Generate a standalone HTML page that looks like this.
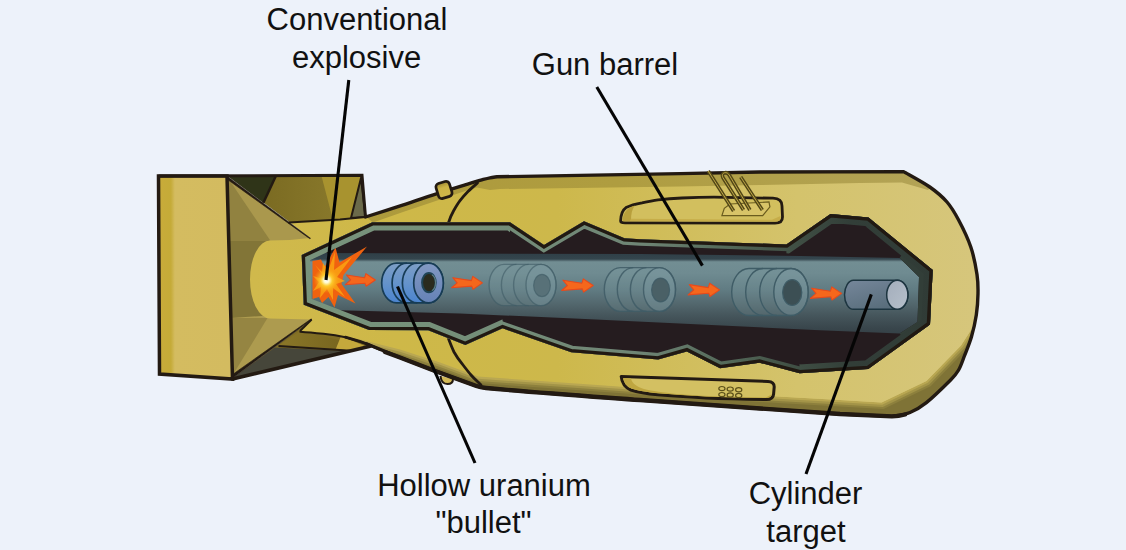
<!DOCTYPE html>
<html><head><meta charset="utf-8"><title>Gun-type fission weapon</title>
<style>
html,body{margin:0;padding:0;background:#edf2fa;}
body{width:1126px;height:550px;overflow:hidden;}
svg{display:block}
text{font-family:"Liberation Sans",sans-serif;font-size:31px;fill:#111;text-anchor:middle}
</style></head><body>
<svg width="1126" height="550" viewBox="0 0 1126 550">
<defs>
<linearGradient id="gBarrel" x1="0" y1="0" x2="0" y2="1">
<stop offset="0" stop-color="#2f3f47"/><stop offset="0.075" stop-color="#34454d"/><stop offset="0.11" stop-color="#728e93"/><stop offset="0.25" stop-color="#6f8b91"/><stop offset="0.45" stop-color="#617c83"/><stop offset="0.64" stop-color="#52666c"/><stop offset="0.78" stop-color="#45555b"/><stop offset="0.93" stop-color="#39464c"/><stop offset="1" stop-color="#354147"/>
</linearGradient>
<linearGradient id="gBand" x1="300" y1="0" x2="940" y2="0" gradientUnits="userSpaceOnUse">
<stop offset="0" stop-color="#78937c"/><stop offset="0.19" stop-color="#76917a"/><stop offset="0.53" stop-color="#6f8575"/><stop offset="0.66" stop-color="#556b5b"/><stop offset="0.75" stop-color="#445448"/><stop offset="0.86" stop-color="#323e38"/><stop offset="1" stop-color="#303b36"/>
</linearGradient>
<linearGradient id="gBox" x1="157" y1="0" x2="230" y2="0" gradientUnits="userSpaceOnUse">
<stop offset="0" stop-color="#c9ab3a"/><stop offset="0.19" stop-color="#c5ab38"/><stop offset="0.245" stop-color="#d4bc60"/><stop offset="1" stop-color="#d3bb60"/>
</linearGradient>
<linearGradient id="gBody" x1="250" y1="0" x2="980" y2="0" gradientUnits="userSpaceOnUse">
<stop offset="0" stop-color="#d0b94c"/><stop offset="0.2" stop-color="#ceb848"/><stop offset="0.42" stop-color="#cdb84b"/><stop offset="0.75" stop-color="#d4c36c"/><stop offset="1" stop-color="#d6c67c"/>
</linearGradient>
<linearGradient id="gBrown" x1="230" y1="0" x2="330" y2="0" gradientUnits="userSpaceOnUse"><stop offset="0" stop-color="#75651e"/><stop offset="1" stop-color="#87772a"/></linearGradient>
<linearGradient id="gLug" x1="0" y1="0" x2="0" y2="1"><stop offset="0" stop-color="#a08a34"/><stop offset="0.35" stop-color="#cdb446"/><stop offset="1" stop-color="#cfb74a"/></linearGradient>
<linearGradient id="gStrip" x1="280" y1="0" x2="340" y2="0" gradientUnits="userSpaceOnUse"><stop offset="0" stop-color="#8a7628"/><stop offset="1" stop-color="#78661f"/></linearGradient>
<linearGradient id="gTopBand" x1="360" y1="0" x2="930" y2="0" gradientUnits="userSpaceOnUse">
<stop offset="0" stop-color="#ad9a3c"/><stop offset="0.45" stop-color="#af9d40"/><stop offset="1" stop-color="#b3a356"/>
</linearGradient>
<linearGradient id="gRing" x1="0" y1="0" x2="0" y2="1">
<stop offset="0" stop-color="#8299c3"/><stop offset="1" stop-color="#6582b6"/>
</linearGradient>
<radialGradient id="gExp" cx="326.5" cy="280.3" r="13" gradientUnits="userSpaceOnUse">
<stop offset="0" stop-color="#ffffff"/><stop offset="0.2" stop-color="#fffbd0"/><stop offset="0.45" stop-color="#fdd030" stop-opacity="0.9"/><stop offset="1" stop-color="#f9a012" stop-opacity="0"/>
</radialGradient>
<linearGradient id="gBullet" x1="0" y1="0" x2="0" y2="1">
<stop offset="0" stop-color="#7d9ec6"/><stop offset="0.5" stop-color="#6593cb"/><stop offset="1" stop-color="#4b84cf"/>
</linearGradient>
<linearGradient id="gTarget" x1="0" y1="0" x2="0.6" y2="1">
<stop offset="0" stop-color="#76879b"/><stop offset="1" stop-color="#586d7b"/>
</linearGradient>
<linearGradient id="gCap" x1="0" y1="0" x2="1" y2="1">
<stop offset="0" stop-color="#a3adbb"/><stop offset="1" stop-color="#b6c0cb"/>
</linearGradient>
<path id="arrow" d="M0,0 L20.900,3.300 L22.400,-1.500 L33.300,5.800 L22.700,13.100 L21.300,9.500 L-1.300,11.300 L4.900,5.800 Z" fill="#f5671c" stroke="#e64a1c" stroke-width="1.200" stroke-linejoin="round"/>
<path id="cut" d="M372.300,222.300 L510,222.300 L544,245 L584,221.300 L624.500,238.300 L640,239.200 L786.400,244.500 L830.500,214.100 L868.500,217.500 L932.700,270 L930,324.500 L868.200,369.100 L799.500,373.200 L759.500,362.700 L720,368.200 L686.800,351.400 L658.200,359.500 L571.200,352.300 L502.600,328.300 L465.300,345 L428.200,330.200 L369,330 L303.700,304.700 L301.700,255 Z"/>
<clipPath id="cutclip"><use href="#cut"/></clipPath>
</defs>
<rect width="1126" height="550" fill="#edf2fa"/>

<!-- TAIL -->
<g stroke-linejoin="round">
<!-- inside of box, top -->
<path d="M228,176 L362,175.500 L365.500,217 L340,219.500 L290,222.500 Z" fill="url(#gBrown)"/>
<path d="M321.500,176 L362,175.500 L365.500,217 L340,219.500 L333,220 Z" fill="#a8932f"/>
<path d="M229,177 L275.600,176.500 L263.400,202.700 Z" fill="#2f3418"/>
<path d="M275.600,176.500 L263.400,202.700" stroke="#231a12" stroke-width="2.500" fill="none"/>
<path d="M361,178 L365.500,217 L351,218 Z" fill="#6b6a4a" stroke="#231a12" stroke-width="2"/>
<!-- bottom region under body -->
<path d="M233,378 L311.600,319.600 L345,337 L372,346.500 Z" fill="#7f6c24"/>
<path d="M233,378 L275,347.500 L351,351.300 L370,346.500 Z" fill="#46463a"/>
<path d="M300,331 L359.600,344.700 L350.800,350.500 L278.500,345.400 Z" fill="url(#gStrip)"/>
<path d="M341,336 L362,344.700 L366,346.500 L350.800,350.500 L335.800,349 Z" fill="#c4a83c"/>
<path d="M278.500,346 L351,350.800" stroke="#231a12" stroke-width="2" fill="none"/>
<!-- fin faces -->
<path d="M228,178 L310,238 L310,241 L275,246 L230,243 Z" fill="#aa984d"/>
<path d="M228,178 L269.600,239.500 L269.600,241.500 L229,241.500 Z" fill="#918240"/>
<path d="M229,241 L275,241 L275,318.500 L231,318.500 Z" fill="#827537"/>
<path d="M231,318 L275,315 L311.600,317 L311.600,319.600 L233,376 Z" fill="#ad9b4f"/>
<path d="M231,318 L267.500,318 L234,373 Z" fill="#958542"/>
</g>

<!-- BODY -->
<path d="M290,222.500 L340,219.500 L365.5,217.0 C371.6,215.1 390.0,209.2 401.8,205.3 C413.6,201.4 425.7,197.2 436.4,193.8 C447.1,190.4 458.4,186.9 466.0,184.6 C473.6,182.3 477.8,181.0 481.8,179.9 C485.8,178.8 487.5,178.3 490.0,177.8 C492.5,177.3 495.8,177.0 497.0,176.8 L680,173.600 L760,172 L903.6,171.6 C908.0,174.2 922.6,181.9 929.8,187.0 C937.0,192.1 942.2,196.5 947.0,202.0 C951.8,207.5 954.6,212.5 958.6,220.0 C962.6,227.5 967.7,237.9 970.8,247.0 C973.9,256.1 975.8,266.7 977.0,274.5 C978.2,282.3 978.1,286.9 978.0,293.6 C977.9,300.4 977.4,307.8 976.3,315.0 C975.2,322.2 973.4,330.2 971.4,337.0 C969.4,343.8 966.5,350.5 964.4,356.0 C962.3,361.5 960.9,366.0 958.6,370.0 C956.3,374.0 956.0,374.6 950.6,380.0 C945.2,385.4 933.2,397.2 926.4,402.6 C919.6,408.0 915.7,410.2 910.0,412.5 C904.3,414.8 895.0,415.8 892.0,416.4 L840,414 L760,408.500 L640,400 C600,397 540,393 486,388 C482,387.600 479,387 476.400,386 L433,370.200 L400,357.500 L367,344 L367,344 C360,341.500 352,338.800 345.300,337.200 C338,335.600 330,334.500 323.500,333.800 C315,333 307,332.300 300.300,331.800 L311.600,319.600 L270,318.500 A20,39 0 0 1 270,240.500 L290,240 L310,238 Z" fill="url(#gBody)"/>
<clipPath id="bodyclip"><path d="M290,222.500 L340,219.500 L365.5,217.0 C371.6,215.1 390.0,209.2 401.8,205.3 C413.6,201.4 425.7,197.2 436.4,193.8 C447.1,190.4 458.4,186.9 466.0,184.6 C473.6,182.3 477.8,181.0 481.8,179.9 C485.8,178.8 487.5,178.3 490.0,177.8 C492.5,177.3 495.8,177.0 497.0,176.8 L680,173.600 L760,172 L903.6,171.6 C908.0,174.2 922.6,181.9 929.8,187.0 C937.0,192.1 942.2,196.5 947.0,202.0 C951.8,207.5 954.6,212.5 958.6,220.0 C962.6,227.5 967.7,237.9 970.8,247.0 C973.9,256.1 975.8,266.7 977.0,274.5 C978.2,282.3 978.1,286.9 978.0,293.6 C977.9,300.4 977.4,307.8 976.3,315.0 C975.2,322.2 973.4,330.2 971.4,337.0 C969.4,343.8 966.5,350.5 964.4,356.0 C962.3,361.5 960.9,366.0 958.6,370.0 C956.3,374.0 956.0,374.6 950.6,380.0 C945.2,385.4 933.2,397.2 926.4,402.6 C919.6,408.0 915.7,410.2 910.0,412.5 C904.3,414.8 895.0,415.8 892.0,416.4 L840,414 L760,408.500 L640,400 C600,397 540,393 486,388 C482,387.600 479,387 476.400,386 L433,370.200 L400,357.500 L367,344 L367,344 C360,341.500 352,338.800 345.300,337.200 C338,335.600 330,334.500 323.500,333.800 C315,333 307,332.300 300.300,331.800 L311.600,319.600 L270,318.500 A20,39 0 0 1 270,240.500 L290,240 L310,238 Z"/></clipPath>
<g clip-path="url(#bodyclip)">
<!-- top shade band -->
<path d="M364,215 L365.500,217 L436,190 L480,178 L496,174 L680,170 L760,168 L906,168 L932,186 L928,190 L902,182.500 L860,183 L760,185 L680,186.400 L500,189 L490,190 L477,187.500 L466,190.800 L438,200.200 L403,212 L373,222.500 Z" fill="url(#gTopBand)"/>
<!-- bottom shade band -->
<clipPath id="bandclip"><path d="M356,335.5 L400,346.0 L440,359.0 L478,374.0 L640,388 L778,396.500 L840,400 L881.500,402.600 L926.400,381 L961,345.500 L971,330 L990,330 L990,430 L356,430 Z"/></clipPath>
<g clip-path="url(#bandclip)">
<path d="M356,338.5 L400,349.5 L440,362.5 L478,376.5 L640,388.0 L778,396.5 L840,400.0 L881.5,402.6 L926.4,381.0 L961.0,345.5 L971.0,330.0 L995,332 L995,432 L356,432 Z" fill="#b9a752"/>
<path d="M356,340.7 L400,351.7 L440,364.7 L478,378.7 L640,390.2 L778,398.7 L840,402.2 L882.2,404.8 L927.8,382.8 L962.8,346.8 L972.9,331.1 L995,332 L995,432 L356,432 Z" fill="#a39448"/>
<path d="M356,342.9 L400,353.9 L440,366.9 L478,380.9 L640,392.4 L778,400.9 L840,404.4 L882.8,407.0 L929.3,384.5 L964.5,348.1 L974.7,332.2 L995,332 L995,432 L356,432 Z" fill="#8d803d"/>
<path d="M356,345.0 L400,356.0 L440,369.0 L478,383.0 L640,394.5 L778,403.0 L840,406.5 L883.5,409.1 L930.6,386.2 L966.2,349.4 L976.5,333.2 L995,332 L995,432 L356,432 Z" fill="#7f7336"/>
</g>
</g>
<!-- seams -->
<g fill="none" stroke="#231a12" stroke-width="2.800" stroke-linecap="round">
<path d="M477.500,183 C474,186 471,188.500 468,191.500 C465,194.500 462.500,197.500 460,200.700 C457.500,204 455.500,207.500 453.500,211 C451.500,214.500 450,218 448.600,222.500"/>
<path d="M448.600,339 C450.500,344 452,348 454,352 C456.500,356.500 459,360 462,363.700 C465,367.500 468,371.500 471,375 C474,378.500 477.500,381.500 481,385"/>
</g>
<!-- lugs -->
<path d="M440.500,376 C441,382 444,384 447.500,384 C451,384 453,382 453,379" fill="#d2b957" stroke="#231a12" stroke-width="2"/>
<!-- body outline -->
<path d="M365.5,217.0 C371.6,215.1 390.0,209.2 401.8,205.3 C413.6,201.4 425.7,197.2 436.4,193.8 C447.1,190.4 458.4,186.9 466.0,184.6 C473.6,182.3 477.8,181.0 481.8,179.9 C485.8,178.8 487.5,178.3 490.0,177.8 C492.5,177.3 495.8,177.0 497.0,176.8 L680,173.600 L760,172 L903.6,171.6 C908.0,174.2 922.6,181.9 929.8,187.0 C937.0,192.1 942.2,196.5 947.0,202.0 C951.8,207.5 954.6,212.5 958.6,220.0 C962.6,227.5 967.7,237.9 970.8,247.0 C973.9,256.1 975.8,266.7 977.0,274.5 C978.2,282.3 978.1,286.9 978.0,293.6 C977.9,300.4 977.4,307.8 976.3,315.0 C975.2,322.2 973.4,330.2 971.4,337.0 C969.4,343.8 966.5,350.5 964.4,356.0 C962.3,361.5 960.9,366.0 958.6,370.0 C956.3,374.0 956.0,374.6 950.6,380.0 C945.2,385.4 933.2,397.2 926.4,402.6 C919.6,408.0 915.7,410.2 910.0,412.5 C904.3,414.8 895.0,415.8 892.0,416.4 L840,414 L760,408.500 L640,400 C600,397 540,393 486,388 C482,387.600 479,387 476.400,386 L433,370.200 L400,357.500 L367,344" fill="none" stroke="#231a12" stroke-width="3.400" stroke-linejoin="round" stroke-linecap="round"/>
<path d="M905,414.500 C900,416 896,416.400 892,416.400 L840,414 L760,408.500 L640,400 C600,397 540,393 486,388 C482,387.600 479,387 476.400,386 L433,370.200 L400,357.500 L385,352" fill="none" stroke="#231a12" stroke-width="4.400" stroke-linecap="round" stroke-linejoin="round"/>
<path d="M289,222.600 L340,219.500 L365.500,217" fill="none" stroke="#231a12" stroke-width="2" stroke-linecap="round"/>
<path d="M367,344 C360,341.500 352,338.800 345.300,337.200 C338,335.600 330,334.500 323.500,333.800 C315,333 307,332.300 300.300,331.800" fill="none" stroke="#231a12" stroke-width="2" stroke-linecap="round"/>
<path d="M380,349.500 L367,344 C360,341.500 352,338.800 345.300,337.200" fill="none" stroke="#231a12" stroke-width="2.800" stroke-linecap="round"/>
<!-- lugs -->
<rect x="437" y="182.200" width="14" height="15.500" rx="3.500" fill="url(#gLug)" stroke="#231a12" stroke-width="2.700" transform="rotate(-17 444 190)"/>
<!-- fin diagonals -->
<path d="M227.500,176.500 L310.500,238.300 L309.800,238.700 L227.500,179.500 Z" fill="#231a12" stroke="#231a12" stroke-width="0.600" stroke-linejoin="round"/>
<path d="M233.500,377.500 L312,319.300 L311,319 L232.500,374.500 Z" fill="#231a12" stroke="#231a12" stroke-width="0.600" stroke-linejoin="round"/>
<path d="M300,331 L311.600,319.600" stroke="#231a12" stroke-width="2" fill="none"/>
<!-- tail box -->
<path d="M158.500,176 L227,176 L232.500,379 L159.500,374 Z" fill="url(#gBox)" stroke="#231a12" stroke-width="3.500" stroke-linejoin="miter"/>
<path d="M158.500,176 L362,175.300 L365.500,217" fill="none" stroke="#231a12" stroke-width="3" stroke-linejoin="miter"/>
<path d="M232.500,379 L370,346.300" fill="none" stroke="#231a12" stroke-width="3.600" stroke-linecap="round"/>

<!-- pockets -->
<g stroke-linejoin="round">
<path d="M620.600,221 C620.800,214 622.500,210 626,207.600 C631,205 636,203.800 642,202.800 C647,201.800 652,200.800 658,199.900 C666,199 674,198.400 682,198 C693,197.500 704,197.200 714,197.200 L773,198.200 C779,198.400 782,201 782,206 L782.500,217 C782.500,221.500 780,223.200 775,223.200 L625,222.800 C622,222.800 620.600,222.500 620.600,221 Z" fill="#d2bf5e" stroke="#231a12" stroke-width="2.800"/>
<path d="M622.500,220.500 C622.800,215 625,211 629,208 C631,206.700 633,206 635,205.500 C632,209 631,214 631,220 L630,221.300 L624,221.300 C623,221.300 622.500,221 622.500,220.500 Z" fill="#b89f3c"/>
<path d="M631,218.800 L772,219.800 L780.500,216 L780.500,218 C780.500,220.500 779,221.500 775,221.500 L630,221.300 Z" fill="#c6ad49"/>
<path d="M621.200,376.400 L768,381.500 C772.500,381.800 774.300,383.500 774.200,387 L773.600,394 C773.300,398 771,399.600 766,399.500 C745,399.200 725,398.800 706,398 C688,397 672,396 658,394.800 C647,393.800 637,392 630.800,390 C625,387.500 621.800,383 621.200,376.400 Z" fill="#d3c062" stroke="#231a12" stroke-width="3"/>
<path d="M623.200,378 L631,378.400 C632,383 636,386.500 644,389 C660,393 690,395.500 720,396.500 L766,397.500 L771.500,394.500 C771.300,397 770,398 766,398 C745,397.700 725,397.300 706,396.500 C688,395.500 672,394.500 658,393.300 C647,392.300 637,390.500 631.500,388.500 C626.500,386.500 624,383 623.200,378 Z" fill="#bfa640"/>
</g>
<g fill="none" stroke="#5c501a" stroke-width="1.200">
<ellipse cx="721.900" cy="388.600" rx="3.100" ry="2.100"/><ellipse cx="730.200" cy="389.100" rx="3.100" ry="2.100"/><ellipse cx="738.700" cy="389.700" rx="3.100" ry="2.100"/>
<ellipse cx="721.900" cy="394.600" rx="3.100" ry="2.100"/><ellipse cx="730.200" cy="395" rx="3.100" ry="2.100"/><ellipse cx="738.700" cy="395.500" rx="3.100" ry="2.100"/>
</g>
<!-- plate and wires -->
<path d="M721.900,215.600 L724.300,208.400 L730,204 L769,202 L769.900,206.800 L762.700,215.600 Z" fill="#d8c468" stroke="#6a5c1e" stroke-width="1.200"/>
<g fill="none" stroke="#514617" stroke-width="3.600" stroke-linecap="butt">
<path d="M708.200,171 L733.600,211"/>
<path d="M743.500,210 L722.900,177.500 C720.500,173 726.500,170.500 729.200,175 L749.900,210"/>
<path d="M740.700,177 L762.300,210"/>
</g>
<g fill="none" stroke="#bca546" stroke-width="1" stroke-linecap="butt">
<path d="M708.200,171 L733.600,211"/>
<path d="M743.500,210 L722.900,177.500 C720.500,173 726.500,170.500 729.200,175 L749.900,210"/>
<path d="M740.700,177 L762.300,210"/>
</g>

<!-- CUTAWAY -->
<use href="#cut" fill="#251c1f"/>
<g clip-path="url(#cutclip)">
<path d="M316,253 L460,253.500 L640,254 L800,256 L899.600,258 L919,277 L917.500,322 L899.600,333.600 L820,330.300 L580,318.700 L460,313.500 L330,310 L308,301 L308,258 Z" fill="url(#gBarrel)"/>
</g>
<g stroke="#173c55" stroke-width="1.7" fill="url(#gBullet)"><path d="M396.5,263.1 L428.5,263.1 A14.8,19.9 0 0 1 428.5,302.9 L396.5,302.9 A14.8,19.9 0 0 1 396.5,263.1 Z"/><path d="M406.9,302.9 A14.8,19.9 0 0 1 406.9,263.1" fill="none"/><path d="M417.2,302.9 A14.8,19.9 0 0 1 417.2,263.1" fill="none"/><ellipse cx="428.5" cy="283.0" rx="14.8" ry="19.9" fill="url(#gRing)"/><ellipse cx="428.9" cy="282.6" rx="6.8" ry="9.7" fill="#2a2b1e" stroke="#1f4456" stroke-width="2"/><path d="M432.0,274.8 A5.6,8.5 0 0 1 432.0,290.6" fill="none" stroke="#5f7f84" stroke-width="1.1"/></g>
<g stroke="#3f5c66" stroke-opacity="0.6" stroke-width="1.4" fill="#86a3aa" fill-opacity="0.22"><path d="M504.1,264.4 L541.0,264.4 A15.0,20.6 0 0 1 541.0,305.6 L504.1,305.6 A15.0,20.6 0 0 1 504.1,264.4 Z"/><path d="M516.4,305.6 A15.0,20.6 0 0 1 516.4,264.4" fill="none"/><path d="M528.6,305.6 A15.0,20.6 0 0 1 528.6,264.4" fill="none"/><ellipse cx="541.0" cy="285.0" rx="15.0" ry="20.6" fill="#7f9ca3" fill-opacity="0.35"/><ellipse cx="542.0" cy="285.5" rx="8.4" ry="11.2" fill="#587178" fill-opacity="1" stroke="#3f5c66" stroke-width="1.2"/></g>
<g stroke="#3f5c66" stroke-opacity="0.85" stroke-width="1.4" fill="#86a3aa" fill-opacity="0.22"><path d="M620.3,267.6 L659.5,267.6 A16.0,21.9 0 0 1 659.5,311.4 L620.3,311.4 A16.0,21.9 0 0 1 620.3,267.6 Z"/><path d="M633.3,311.4 A16.0,21.9 0 0 1 633.3,267.6" fill="none"/><path d="M646.4,311.4 A16.0,21.9 0 0 1 646.4,267.6" fill="none"/><ellipse cx="659.5" cy="289.5" rx="16.0" ry="21.9" fill="#7f9ca3" fill-opacity="0.35"/><ellipse cx="660.6" cy="290.0" rx="9.0" ry="11.9" fill="#4a6066" fill-opacity="1" stroke="#3f5c66" stroke-width="1.2"/></g>
<g stroke="#3f5c66" stroke-opacity="1.0" stroke-width="1.4" fill="#86a3aa" fill-opacity="0.22"><path d="M748.9,268.5 L791.0,268.5 A17.2,23.5 0 0 1 791.0,315.5 L748.9,315.5 A17.2,23.5 0 0 1 748.9,268.5 Z"/><path d="M762.9,315.5 A17.2,23.5 0 0 1 762.9,268.5" fill="none"/><path d="M776.9,315.5 A17.2,23.5 0 0 1 776.9,268.5" fill="none"/><ellipse cx="791.0" cy="292.0" rx="17.2" ry="23.5" fill="#7f9ca3" fill-opacity="0.35"/><ellipse cx="792.2" cy="292.5" rx="9.6" ry="12.8" fill="#3c4f54" fill-opacity="1" stroke="#3f5c66" stroke-width="1.2"/></g>
<!-- target -->
<g stroke="#1d3540" stroke-width="1.500">
<path d="M853.500,280.300 L897.300,280.300 A10.600,14.500 0 0 1 897.300,309.300 L853.500,309.300 A9,14.500 0 0 1 853.500,280.300 Z" fill="url(#gTarget)"/>
<ellipse cx="897.300" cy="294.800" rx="10.600" ry="14.500" fill="url(#gCap)"/>
</g>
<!-- explosion -->
<path d="M312.500,261 L321,259.500 L324.500,267 L335.500,247.500 L339.500,262.500 L367,246.500 L343.500,275 L341.500,284 L355.500,303.500 L338,295 L334.500,307.500 L328.500,297 L322,303 L319,297 L312.500,299 Z" fill="#f0620f"/>
<path d="M326.500,280.300 L315,265 L322,272 L323,263 L328,271 L335,252 L334,270 L352,257 L337,277 L345,281 L336,284 L345,297 L333,288 L333,300 L327,289 L320,298 L321,287 L313,291 L319,282 L313,276 Z" fill="#f9a012" opacity="0.9"/>
<circle cx="326.500" cy="280.300" r="13" fill="url(#gExp)"/>
<!-- arrows -->
<use href="#arrow" transform="translate(346.400,274.900) scale(0.87)"/>
<use href="#arrow" transform="translate(452.800,277.700) scale(0.89)"/>
<use href="#arrow" transform="translate(562.900,280.200) scale(0.91)"/>
<use href="#arrow" transform="translate(689.300,284.600) scale(0.91)"/>
<use href="#arrow" transform="translate(811.600,288.200) scale(0.9)"/>
<g clip-path="url(#cutclip)">
<path d="M899.600,258 L919,277 L917.500,322 L899.600,333.600 L905,340 L935,326 L938,270 L905,250 Z" fill="#323e38"/>
<use href="#cut" fill="none" stroke="url(#gBand)" stroke-width="13.200" stroke-linejoin="miter"/>
<clipPath id="cl"><path d="M290,200 L510,200 L510,280 L502.600,280 L502.600,400 L290,400 Z"/></clipPath>
<clipPath id="cr"><path d="M786.400,200 L786.400,300 L799.500,300 L799.500,400 L950,400 L950,200 Z"/></clipPath>
<g clip-path="url(#cl)"><use href="#cut" fill="none" stroke="url(#gBand)" stroke-width="16.400" stroke-linejoin="miter"/></g>
<g clip-path="url(#cr)"><use href="#cut" fill="none" stroke="url(#gBand)" stroke-width="17.600" stroke-linejoin="miter"/></g>
<use href="#cut" fill="none" stroke="#211912" stroke-width="6.600" stroke-linejoin="miter"/>
</g>

<!-- LABELS -->
<g stroke="#050505" stroke-width="3.100" stroke-linecap="butt">
<line x1="348.800" y1="80" x2="326" y2="280"/>
<line x1="596.800" y1="87" x2="702.400" y2="265.600"/>
<line x1="397.500" y1="286.500" x2="475" y2="463"/>
<line x1="871.300" y1="294.400" x2="806" y2="474"/>
</g>
<text x="357" y="30">Conventional</text>
<text x="356.600" y="68.300">explosive</text>
<text x="605" y="74.600">Gun barrel</text>
<text x="484" y="495.600">Hollow uranium</text>
<text x="483.500" y="533">"bullet"</text>
<text x="805.500" y="503.600">Cylinder</text>
<text x="806" y="542">target</text>
</svg>
</body></html>
